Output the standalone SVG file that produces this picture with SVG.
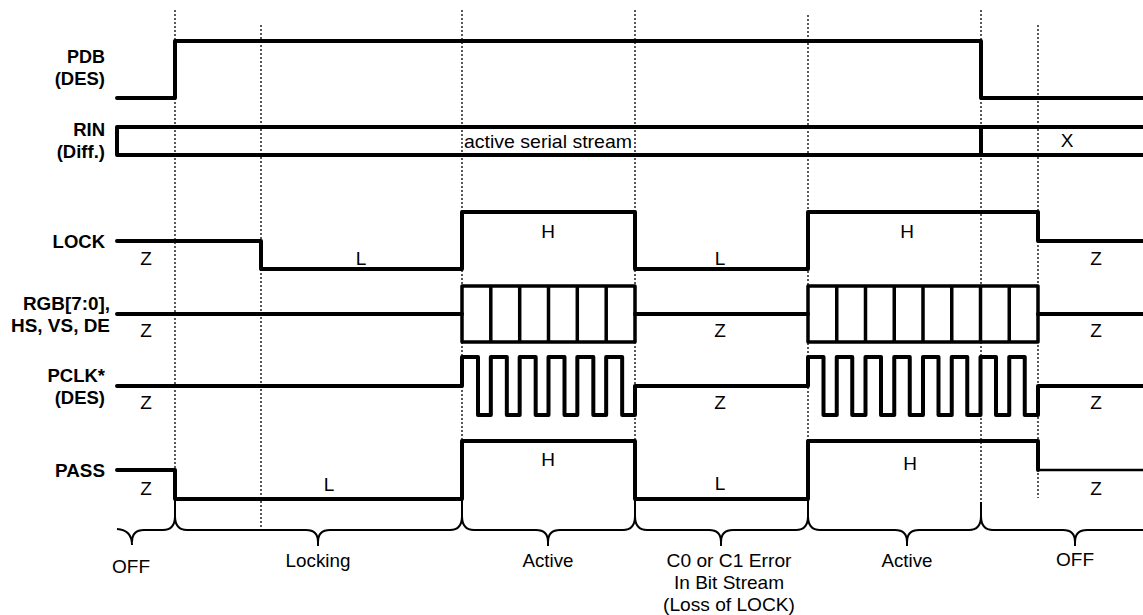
<svg xmlns="http://www.w3.org/2000/svg" width="1143" height="615" viewBox="0 0 1143 615">
<style>
.sig{fill:none;stroke:#000;stroke-width:4;stroke-linejoin:round;stroke-linecap:round}
.thin{fill:none;stroke:#000;stroke-width:2.5;stroke-linejoin:round}
.box{fill:none;stroke:#000;stroke-width:3.5;stroke-linejoin:round}
.dot{fill:none;stroke:#000;stroke-width:1.3;stroke-dasharray:2,2}
.brace{fill:none;stroke:#000;stroke-width:2}
.lbl{font-family:"Liberation Sans",Arial,sans-serif;font-weight:bold;font-size:18.5px;text-anchor:end;fill:#000}
.t{font-family:"Liberation Sans",Arial,sans-serif;font-size:19px;text-anchor:middle;fill:#000}
</style>
<rect width="1143" height="615" fill="#fff"/>
<g id="guides">
<line class="dot" x1="175" y1="10" x2="175" y2="500"/>
<line class="dot" x1="261" y1="25" x2="261" y2="528"/>
<line class="dot" x1="462" y1="10" x2="462" y2="500"/>
<line class="dot" x1="635" y1="10" x2="635" y2="500"/>
<line class="dot" x1="808" y1="15" x2="808" y2="500"/>
<line class="dot" x1="981" y1="10" x2="981" y2="502"/>
<line class="dot" x1="1038" y1="25" x2="1038" y2="498"/>
</g>
<g id="labels">
<text class="lbl" x="105" y="63" textLength="38" lengthAdjust="spacingAndGlyphs">PDB</text>
<text class="lbl" x="105" y="85">(DES)</text>
<text class="lbl" x="105" y="136">RIN</text>
<text class="lbl" x="105" y="158">(Diff.)</text>
<text class="lbl" x="105" y="248">LOCK</text>
<text class="lbl" x="110" y="310" textLength="87" lengthAdjust="spacingAndGlyphs">RGB[7:0],</text>
<text class="lbl" x="110" y="332" textLength="99" lengthAdjust="spacingAndGlyphs">HS, VS, DE</text>
<text class="lbl" x="105" y="382">PCLK*</text>
<text class="lbl" x="105" y="404">(DES)</text>
<text class="lbl" x="105" y="477" textLength="50" lengthAdjust="spacingAndGlyphs">PASS</text>
</g>
<g id="pdb">
<path class="sig" d="M117,98 L175,98 L175,41 L981,41 L981,98 L1145,98"/>
</g>
<g id="rin">
<path class="sig" d="M1145,127 L117,127 L117,155 L1145,155"/>
<line class="sig" x1="981" y1="127" x2="981" y2="155"/>
<text class="t" x="548" y="148" textLength="168" lengthAdjust="spacingAndGlyphs">active serial stream</text>
<text class="t" x="1067" y="147">X</text>
</g>
<g id="lock">
<path class="sig" d="M117,241 L261,241 L261,269 L462,269 L462,212 L635,212 L635,269 L808,269 L808,212 L1038,212 L1038,241 L1145,241"/>
<text class="t" x="146" y="265">Z</text>
<text class="t" x="361" y="265">L</text>
<text class="t" x="548" y="238">H</text>
<text class="t" x="720" y="265">L</text>
<text class="t" x="907" y="238">H</text>
<text class="t" x="1096" y="265">Z</text>
</g>
<g id="rgb">
<path class="sig" d="M117,314 L462,314 M635,314 L808,314 M1038,314 L1145,314"/>
<rect class="box" x="462" y="286" width="173" height="56"/>
<path class="box" d="M490.8,286 V342 M519.7,286 V342 M548.5,286 V342 M577.3,286 V342 M606.2,286 V342"/>
<rect class="box" x="808" y="286" width="230" height="56"/>
<path class="box" d="M836.75,286 V342 M865.5,286 V342 M894.25,286 V342 M923,286 V342 M951.75,286 V342 M980.5,286 V342 M1009.25,286 V342"/>
<text class="t" x="146" y="337">Z</text>
<text class="t" x="720" y="337">Z</text>
<text class="t" x="1096" y="337">Z</text>
</g>
<g id="pclk">
<path class="sig" d="M117,386 L462,386 L462,357 L478,357 L478,415 L490.83,415 L490.83,357 L506.83,357 L506.83,415 L519.67,415 L519.67,357 L535.67,357 L535.67,415 L548.5,415 L548.5,357 L564.5,357 L564.5,415 L577.33,415 L577.33,357 L593.33,357 L593.33,415 L606.17,415 L606.17,357 L622.17,357 L622.17,415 L635,415 L635,386 L808,386 L808,357 L823.5,357 L823.5,415 L836.75,415 L836.75,357 L852.25,357 L852.25,415 L865.5,415 L865.5,357 L881,357 L881,415 L894.25,415 L894.25,357 L909.75,357 L909.75,415 L923,415 L923,357 L938.5,357 L938.5,415 L951.75,415 L951.75,357 L967.25,357 L967.25,415 L980.5,415 L980.5,357 L996,357 L996,415 L1009.25,415 L1009.25,357 L1024.75,357 L1024.75,415 L1038,415 L1038,386 L1145,386"/>
<text class="t" x="146" y="409">Z</text>
<text class="t" x="720" y="409">Z</text>
<text class="t" x="1096" y="409">Z</text>
</g>
<g id="pass">
<path class="sig" d="M117,470 L175,470 L175,499 L462,499 L462,441 L635,441 L635,499 L808,499 L808,441 L1038,441 L1038,470"/>
<path class="thin" d="M1038,470 L1145,470"/>
<text class="t" x="146" y="495">Z</text>
<text class="t" x="329" y="491">L</text>
<text class="t" x="548" y="466">H</text>
<text class="t" x="720" y="490">L</text>
<text class="t" x="910" y="470">H</text>
<text class="t" x="1096" y="495">Z</text>
</g>
<g id="phases">
<path class="brace" d="M117,529 Q132,530 132,545 M132,542 Q132,530 144,530 L163,530 Q175,530 175,516 L175,500"/>
<path class="brace" d="M175,516 Q175,530 187,530 L306,530 Q318,530 318,542 L318,546 M318,542 Q318,530 330,530 L450,530 Q462,530 462,516 L462,500"/>
<path class="brace" d="M462,516 Q462,530 474,530 L536,530 Q548,530 548,542 L548,546 M548,542 Q548,530 560,530 L623,530 Q635,530 635,516 L635,500"/>
<path class="brace" d="M635,516 Q635,530 647,530 L709,530 Q721,530 721,542 L721,546 M721,542 Q721,530 733,530 L796,530 Q808,530 808,516 L808,500"/>
<path class="brace" d="M808,516 Q808,530 820,530 L895,530 Q907,530 907,542 L907,546 M907,542 Q907,530 919,530 L969,530 Q981,530 981,516 L981,502"/>
<path class="brace" d="M981,516 Q981,530 993,530 L1063,530 Q1075,530 1075,542 L1075,546 M1075,542 Q1075,530 1087,530 L1145,530"/>
<text class="t" x="131" y="573">OFF</text>
<text class="t" x="318" y="567" textLength="65" lengthAdjust="spacingAndGlyphs">Locking</text>
<text class="t" x="548" y="567" textLength="51" lengthAdjust="spacingAndGlyphs">Active</text>
<text class="t" x="729" y="567" textLength="125" lengthAdjust="spacingAndGlyphs">C0 or C1 Error</text>
<text class="t" x="729" y="589" textLength="110" lengthAdjust="spacingAndGlyphs">In Bit Stream</text>
<text class="t" x="729" y="611" textLength="132" lengthAdjust="spacingAndGlyphs">(Loss of LOCK)</text>
<text class="t" x="907" y="567" textLength="51" lengthAdjust="spacingAndGlyphs">Active</text>
<text class="t" x="1075" y="566">OFF</text>
</g>
</svg>
